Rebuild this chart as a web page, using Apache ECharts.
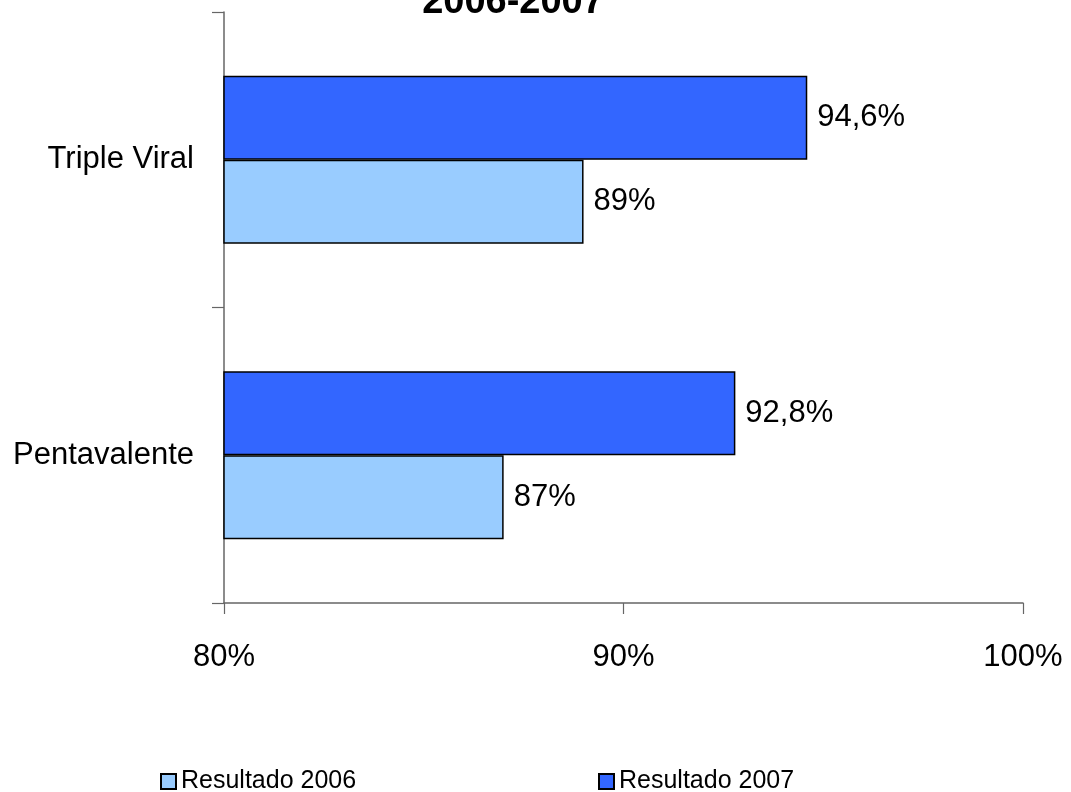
<!DOCTYPE html>
<html>
<head>
<meta charset="utf-8">
<script src="https://cdn.jsdelivr.net/npm/echarts@6/dist/echarts.min.js"></script>
<style>html,body{margin:0;padding:0;background:#fff;}#c{width:1071px;height:792px;}</style>
</head>
<body>
<div id="c"></div>
<script>
const titleText = '2006-2007';
const categories = ['Pentavalente', 'Triple Viral'];
const seriesNames = ['Resultado 2006', 'Resultado 2007'];
const values2006 = [87, 89];
const values2007 = [92.8, 94.6];
const xMin = 80, xMax = 100, xInterval = 10;

const FONT = '"Liberation Sans", Arial, sans-serif';
const fmt = v => String(v).replace('.', ',') + '%';
const labelStyle = { show: true, position: 'right', distance: 10, formatter: p => fmt(p.value),
  fontFamily: FONT, fontSize: 31, color: '#000' };
const legendBase = { top: 769, padding: 0, icon: 'rect', itemWidth: 15, itemHeight: 15, itemGap: 4,
  textStyle: { fontFamily: FONT, fontSize: 25, color: '#000' } };

const chart = echarts.init(document.getElementById('c'));
chart.setOption({
  animation: false,
  backgroundColor: '#fff',
  title: {
    text: titleText, left: 508, top: -21, textAlign: 'center',
    textStyle: { fontFamily: FONT, fontWeight: 'bold', fontSize: 38, color: '#000' }
  },
  legend: [
    Object.assign({}, legendBase, { data: [seriesNames[0]], left: 160 }),
    Object.assign({}, legendBase, { data: [seriesNames[1]], left: 598 })
  ],
  grid: { left: 224, right: 48, top: 12, bottom: 189, containLabel: false },
  xAxis: {
    type: 'value', min: xMin, max: xMax, interval: xInterval,
    axisLine: { show: true, lineStyle: { color: '#666', width: 1.5 } },
    axisTick: { show: true, length: 11, lineStyle: { color: '#666', width: 1.2 } },
    splitLine: { show: false },
    axisLabel: { formatter: '{value}%', margin: 39, fontFamily: FONT, fontSize: 31, color: '#000' }
  },
  yAxis: {
    type: 'category', data: categories,
    axisLine: { show: true, lineStyle: { color: '#666', width: 1.5 } },
    axisTick: { show: true, length: 12, lineStyle: { color: '#666', width: 1.2 } },
    axisLabel: { margin: 30, fontFamily: FONT, fontSize: 31, color: '#000' }
  },
  series: [
    { name: seriesNames[1], type: 'bar', data: values2007, barWidth: 84, barGap: '0%',
      itemStyle: { color: '#3366FF', borderColor: '#000', borderWidth: 1.5 },
      label: labelStyle },
    { name: seriesNames[0], type: 'bar', data: values2006, barWidth: 84, barGap: '0%',
      itemStyle: { color: '#99CCFF', borderColor: '#000', borderWidth: 1.5 },
      label: labelStyle }
  ]
});
</script>
</body>
</html>
